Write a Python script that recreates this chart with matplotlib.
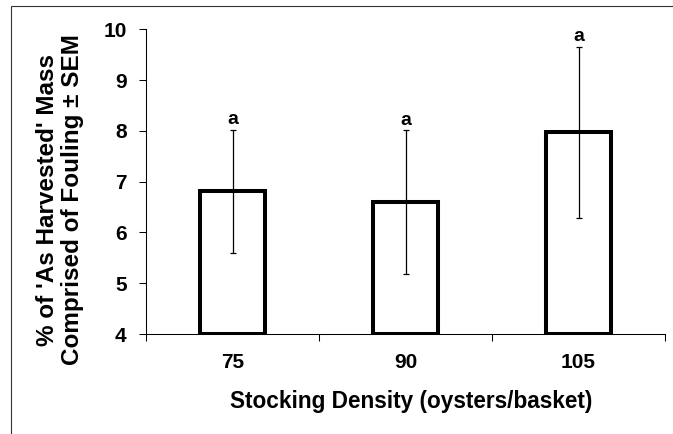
import numpy as np
import matplotlib
matplotlib.use("Agg")
import matplotlib.pyplot as plt
from matplotlib.patches import Rectangle

plt.rcParams['font.family'] = ['Liberation Sans', 'DejaVu Sans']
plt.rcParams['font.weight'] = 'bold'

# Data
density = ['75', '90', '105']
mean_fouling = [6.81, 6.60, 7.97]
sem_fouling = [1.21, 1.41, 1.69]
letters = ['a', 'a', 'a']
y_ticks = [4, 5, 6, 7, 8, 9, 10]

W, H = 673, 434
fig = plt.figure(figsize=(W / 100, H / 100), dpi=100)
ax = fig.add_axes([146 / W, 1 - 334 / H, (665 - 146) / W, (334 - 29.3) / H])

x = np.arange(len(density))
base = 4
ax.bar(x, np.array(mean_fouling) - base, bottom=base, width=0.38,
       facecolor='white', edgecolor='black', linewidth=2.9, zorder=2)
ax.errorbar(x, mean_fouling, yerr=sem_fouling, fmt='none', ecolor='black',
            elinewidth=0.9, capsize=2.5, capthick=0.9, zorder=3)

# significance letters above the error bars
for xi, m, s, lab in zip(x, mean_fouling, sem_fouling, letters):
    ax.annotate(lab, (xi, m + s), xytext=(0, 4), textcoords='offset points',
                ha='center', va='baseline', fontsize=14, fontweight='bold')

ax.set_xlim(-0.5, len(density) - 0.5)
ax.set_ylim(4, 10)
ax.set_yticks(y_ticks)
ax.set_xticks(x)
ax.set_xticklabels(density)
ax.set_xticks(np.arange(-0.5, len(density)), minor=True)
ax.tick_params(axis='x', which='major', length=0, pad=14, labelsize=15)
ax.tick_params(axis='x', which='minor', length=5, width=0.75, direction='out')
ax.tick_params(axis='y', length=5, width=0.75, direction='out', pad=9, labelsize=15)

for side in ['top', 'right']:
    ax.spines[side].set_visible(False)
for side in ['left', 'bottom']:
    ax.spines[side].set_linewidth(0.75)

ax.set_xlabel('Stocking Density (oysters/basket)', fontsize=16.3, fontweight='bold')
ax.xaxis.set_label_coords((411.5 - 146) / (665 - 146), -(408 - 334) / (334 - 29.3))
ax.xaxis.label.set_va('baseline')

ax.set_ylabel("% of 'As Harvested' Mass\nComprised of Fouling \u00b1 SEM",
              fontsize=17.5, fontweight='bold', linespacing=1.1)
ax.yaxis.set_label_coords(-(146 - 60) / (665 - 146), (334 - 200) / (334 - 29.3))
ax.yaxis.label.set_va('center')

# outer frame of the original graphic
fig.add_artist(Rectangle((11 / W, -0.1), 1.2, 1 - 6 / H + 0.1, transform=fig.transFigure,
                         fill=False, edgecolor='#333333', linewidth=0.8))

fig.savefig('out.png', dpi=100)
